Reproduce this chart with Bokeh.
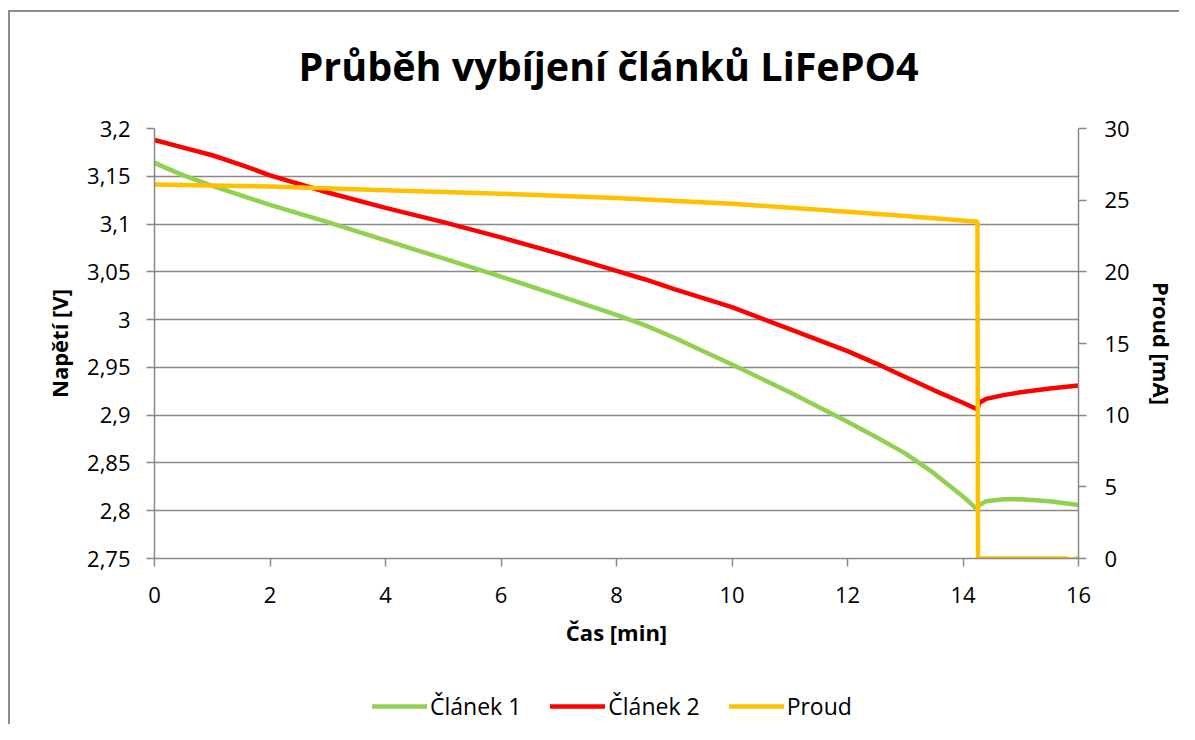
from bokeh.plotting import figure
from bokeh.models import Range1d, LinearAxis, FixedTicker, CustomJSTickFormatter, Legend, LegendItem
from bokeh.layouts import column
from bokeh.embed import file_html
from bokeh.resources import INLINE

# ---- data ----
time_cells = [0, 0.5, 1, 1.5, 2, 3, 4, 5, 6, 7, 8, 8.5, 9, 10, 11, 12, 12.5, 13, 13.5, 14, 14.25,
              14.28, 14.4, 14.7, 15.0, 15.5, 16.0]
clanek_1 = [3.164, 3.151, 3.140, 3.130, 3.120, 3.102, 3.083, 3.064, 3.045, 3.025, 3.005, 2.994,
            2.981, 2.953, 2.924, 2.893, 2.877, 2.860, 2.839, 2.815, 2.801,
            2.806, 2.810, 2.812, 2.812, 2.810, 2.806]
clanek_2 = [3.188, 3.180, 3.172, 3.162, 3.151, 3.133, 3.117, 3.102, 3.086, 3.069, 3.051, 3.042,
            3.032, 3.013, 2.990, 2.967, 2.954, 2.940, 2.926, 2.913, 2.906,
            2.913, 2.917, 2.921, 2.924, 2.928, 2.931]
time_current = [0, 2, 4, 6, 8, 10, 12, 13, 14.25, 14.26, 15, 15.8, 15.85, 16]
proud = [26.1, 25.95, 25.7, 25.45, 25.15, 24.75, 24.2, 23.9, 23.5, 0, 0, 0, -0.1, 0]

x_ticks = [0, 2, 4, 6, 8, 10, 12, 14, 16]
v_ticks = [2.75, 2.8, 2.85, 2.9, 2.95, 3.0, 3.05, 3.1, 3.15, 3.2]
ma_ticks = [0, 5, 10, 15, 20, 25, 30]

title_text = "Průběh vybíjení článků LiFePO4"
names = ["Článek 1", "Článek 2", "Proud"]
colors = ["#92D050", "#FF0000", "#FFC000"]

FONT = "Open Sans"
GRAY = "#898989"
W = 1179
H_MAIN = 660
H_LEG = 64

p = figure(width=W, height=H_MAIN, output_backend="svg", toolbar_location=None,
           x_range=Range1d(0, 16), y_range=Range1d(2.75, 3.2),
           min_border_left=154, min_border_right=98, min_border_top=123,
           min_border_bottom=102)
p.border_fill_color = None
p.background_fill_color = "white"
p.outline_line_color = None

p.title.text = title_text
p.title.align = "left"
p.title.offset = 144
p.title.text_font = FONT
p.title.text_font_size = "39.5px"
p.title.text_font_style = "bold"
p.title.text_color = "black"
p.title.standoff = 72

p.extra_y_ranges = {"mA": Range1d(0, 30)}

comma_fmt = CustomJSTickFormatter(code="""
    let s = tick.toFixed(2).replace(/0+$/, '').replace(/\\.$/, '');
    return s.replace('.', ',');
""")

def style_axis(ax):
    ax.axis_line_color = GRAY
    ax.axis_line_width = 1.5
    ax.major_tick_line_color = GRAY
    ax.major_tick_line_width = 1.5
    ax.minor_tick_line_color = None
    ax.major_tick_in = 0
    ax.major_tick_out = 8
    ax.major_label_text_font = FONT
    ax.major_label_text_font_size = "22px"
    ax.major_label_text_color = "black"
    ax.axis_label_text_font = FONT
    ax.axis_label_text_font_size = "22px"
    ax.axis_label_text_font_style = "bold"
    ax.axis_label_text_color = "black"

xa = p.xaxis[0]
xa.ticker = FixedTicker(ticks=x_ticks)
xa.axis_label = "Čas [min]"
style_axis(xa)
xa.major_label_standoff = 20
xa.axis_label_standoff = 11

ya = p.yaxis[0]
ya.ticker = FixedTicker(ticks=v_ticks)
ya.formatter = comma_fmt
ya.axis_label = "Napětí [V]"
style_axis(ya)
ya.major_label_standoff = 16
ya.axis_label_standoff = 10

yr = LinearAxis(y_range_name="mA", ticker=FixedTicker(ticks=ma_ticks), axis_label="Proud [mA]")
style_axis(yr)
yr.major_label_standoff = 18
yr.axis_label_standoff = 14
p.add_layout(yr, "right")

p.xgrid.grid_line_color = None
p.ygrid.grid_line_color = GRAY
p.ygrid.grid_line_width = 1.5

r1 = p.line(time_cells, clanek_1, line_color=colors[0], line_width=4.5)
r2 = p.line(time_cells, clanek_2, line_color=colors[1], line_width=4.5)
r3 = p.line(time_current, proud, line_color=colors[2], line_width=4.5, y_range_name="mA")

# ---- legend strip below the chart (its frame is aligned with the chart frame) ----
q = figure(width=W, height=H_LEG, output_backend="svg", toolbar_location=None,
           x_range=Range1d(0, 1), y_range=Range1d(0, 1),
           x_axis_type=None, y_axis_type=None, min_border=0)
q.border_fill_color = None
q.background_fill_color = None
q.outline_line_color = None
q.grid.grid_line_color = None
# legend keys only: these sit outside the visible range
l1 = q.line([-5, -4], [-5, -4], line_color=colors[0], line_width=4.5, line_cap="round")
l2 = q.line([-5, -4], [-5, -4], line_color=colors[1], line_width=4.5, line_cap="round")
l3 = q.line([-5, -4], [-5, -4], line_color=colors[2], line_width=4.5, line_cap="round")

legend = Legend(items=[LegendItem(label=names[0], renderers=[l1]),
                       LegendItem(label=names[1], renderers=[l2]),
                       LegendItem(label=names[2], renderers=[l3])],
                orientation="horizontal", location=(218, 2),
                glyph_width=55, glyph_height=20, label_standoff=3, spacing=29,
                padding=0, margin=0, border_line_color=None,
                background_fill_alpha=0,
                label_text_font=FONT, label_text_font_size="23px", label_text_color="black")
q.add_layout(legend)

layout = column(p, q, spacing=0)
layout.styles = {
    "background": "linear-gradient(#8c8c8c, #8c8c8c) 8px 10px / 2px calc(100% - 10px) no-repeat, "
                  "linear-gradient(#8c8c8c, #8c8c8c) 8px 10px / calc(100% - 8px) 2px no-repeat"
}

open("out.html", "w").write(file_html(layout, INLINE))
